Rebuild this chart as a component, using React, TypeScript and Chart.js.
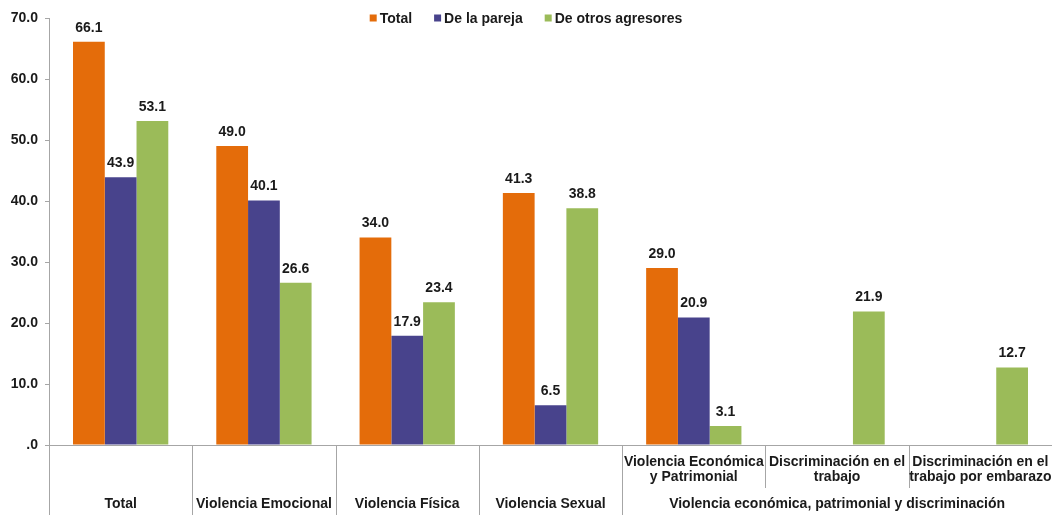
import { useEffect, useRef } from 'react';
import { Chart, registerables } from 'chart.js';

Chart.register(...registerables);

const categories = [
  'Total',
  'Violencia Emocional',
  'Violencia Física',
  'Violencia Sexual',
  'Violencia Económica y Patrimonial',
  'Discriminación en el trabajo',
  'Discriminación en el trabajo por embarazo',
];
const categoryLabelLines: string[][] = [
  ['Total'],
  ['Violencia Emocional'],
  ['Violencia Física'],
  ['Violencia Sexual'],
  ['Violencia Económica', 'y Patrimonial'],
  ['Discriminación en el', 'trabajo'],
  ['Discriminación en el', 'trabajo por embarazo'],
];
const groupLabel = 'Violencia económica, patrimonial y discriminación';
const groupStart = 4;
const groupEnd = 6;

const seriesNames = ['Total', 'De la pareja', 'De otros agresores'];
const totalValues = [66.1, 49.0, 34.0, 41.3, 29.0, null, null];
const parejaValues = [43.9, 40.1, 17.9, 6.5, 20.9, null, null];
const otrosValues = [53.1, 26.6, 23.4, 38.8, 3.1, 21.9, 12.7];
const seriesColors = ['#E46C0A', '#48438C', '#9BBB59'];

const yTicks = [0, 10, 20, 30, 40, 50, 60, 70];

const FONT = '"Liberation Sans", Arial, sans-serif';
const FS = 14;
const TEXT = '#1a1a1a';
const LINE = '#a6a6a6';

const customPlugin = {
  id: 'custom',
  afterDatasetsDraw(chart: any) {
    const ctx = chart.ctx;
    ctx.save();
    ctx.font = `bold ${FS}px ${FONT}`;
    ctx.fillStyle = TEXT;
    ctx.textAlign = 'center';
    ctx.textBaseline = 'middle';
    chart.data.datasets.forEach((ds: any, di: number) => {
      const meta = chart.getDatasetMeta(di);
      meta.data.forEach((bar: any, i: number) => {
        const v = ds.data[i];
        if (v === null || v === undefined) return;
        ctx.fillText(v.toFixed(1), bar.x, bar.y - 14);
      });
    });

    // legend
    const sq = 7;
    const gapSq = 3;
    const gapItem = 22;
    const widths = seriesNames.map((n) => ctx.measureText(n).width);
    const total = widths.reduce((a, b) => a + b, 0) + seriesNames.length * (sq + gapSq) + gapItem * (seriesNames.length - 1);
    let x = chart.width / 2 - total / 2;
    const ly = 18;
    ctx.textAlign = 'left';
    seriesNames.forEach((n, i) => {
      ctx.fillStyle = seriesColors[i];
      ctx.fillRect(x, ly - sq / 2, sq, sq);
      x += sq + gapSq;
      ctx.fillStyle = TEXT;
      ctx.fillText(n, x, ly + 1);
      x += widths[i] + gapItem;
    });

    // bottom axis labels and dividers
    const xs = chart.scales.x;
    const area = chart.chartArea;
    const bottom = chart.height;
    const n = categories.length;
    const step = (area.right - area.left) / n;
    ctx.strokeStyle = LINE;
    ctx.lineWidth = 1;
    for (let i = 0; i <= n; i++) {
      const bx = Math.round(area.left + step * i) + 0.5;
      const inside = i > groupStart && i <= groupEnd;
      ctx.beginPath();
      ctx.moveTo(bx, area.bottom);
      ctx.lineTo(bx, inside ? area.bottom + 43 : bottom);
      ctx.stroke();
    }
    ctx.fillStyle = TEXT;
    ctx.textAlign = 'center';
    for (let i = 0; i < n; i++) {
      const cx = xs.getPixelForValue(i);
      const lines = categoryLabelLines[i];
      if (i >= groupStart && i <= groupEnd) {
        lines.forEach((l, k) => ctx.fillText(l, cx, area.bottom + 17 + k * 15));
      } else {
        ctx.fillText(lines[0], cx, area.bottom + 59);
      }
    }
    const gx = (xs.getPixelForValue(groupStart) + xs.getPixelForValue(groupEnd)) / 2;
    ctx.fillText(groupLabel, gx, area.bottom + 59);
    ctx.restore();
  },
};

export default function App() {
  const ref = useRef<HTMLCanvasElement | null>(null);
  useEffect(() => {
    document.body.style.margin = '0';
    const chart = new Chart(ref.current as HTMLCanvasElement, {
      type: 'bar',
      data: {
        labels: categories,
        datasets: [
          { label: seriesNames[0], data: totalValues, backgroundColor: seriesColors[0] },
          { label: seriesNames[1], data: parejaValues, backgroundColor: seriesColors[1] },
          { label: seriesNames[2], data: otrosValues, backgroundColor: seriesColors[2] },
        ] as any,
      },
      options: {
        animation: false,
        responsive: true,
        maintainAspectRatio: false,
        layout: { padding: { top: 18, right: 0, left: 0, bottom: 0 } },
        datasets: { bar: { categoryPercentage: 0.665, barPercentage: 1.0 } },
        plugins: { legend: { display: false }, tooltip: { enabled: false } },
        scales: {
          x: {
            type: 'category',
            grid: { display: false },
            border: { display: true, color: LINE },
            ticks: { display: false },
            afterFit: (s: any) => {
              s.height = 70;
            },
          },
          y: {
            min: 0,
            max: 70,
            afterBuildTicks: (s: any) => {
              s.ticks = yTicks.map((v) => ({ value: v }));
            },
            grid: { drawOnChartArea: false, drawTicks: true, tickLength: 4, color: LINE },
            border: { display: true, color: LINE },
            ticks: {
              font: { family: FONT, size: FS, weight: 'bold' },
              color: TEXT,
              padding: 7,
              callback: (v: any) => (Number(v) === 0 ? '.0' : Number(v).toFixed(1)),
            },
            afterFit: (s: any) => {
              s.width = 49;
            },
          },
        },
      } as any,
      plugins: [customPlugin],
    });
    return () => chart.destroy();
  }, []);
  return (
    <div style={{ width: 1052, height: 515, position: 'relative' }}>
      <canvas ref={ref} />
    </div>
  );
}
